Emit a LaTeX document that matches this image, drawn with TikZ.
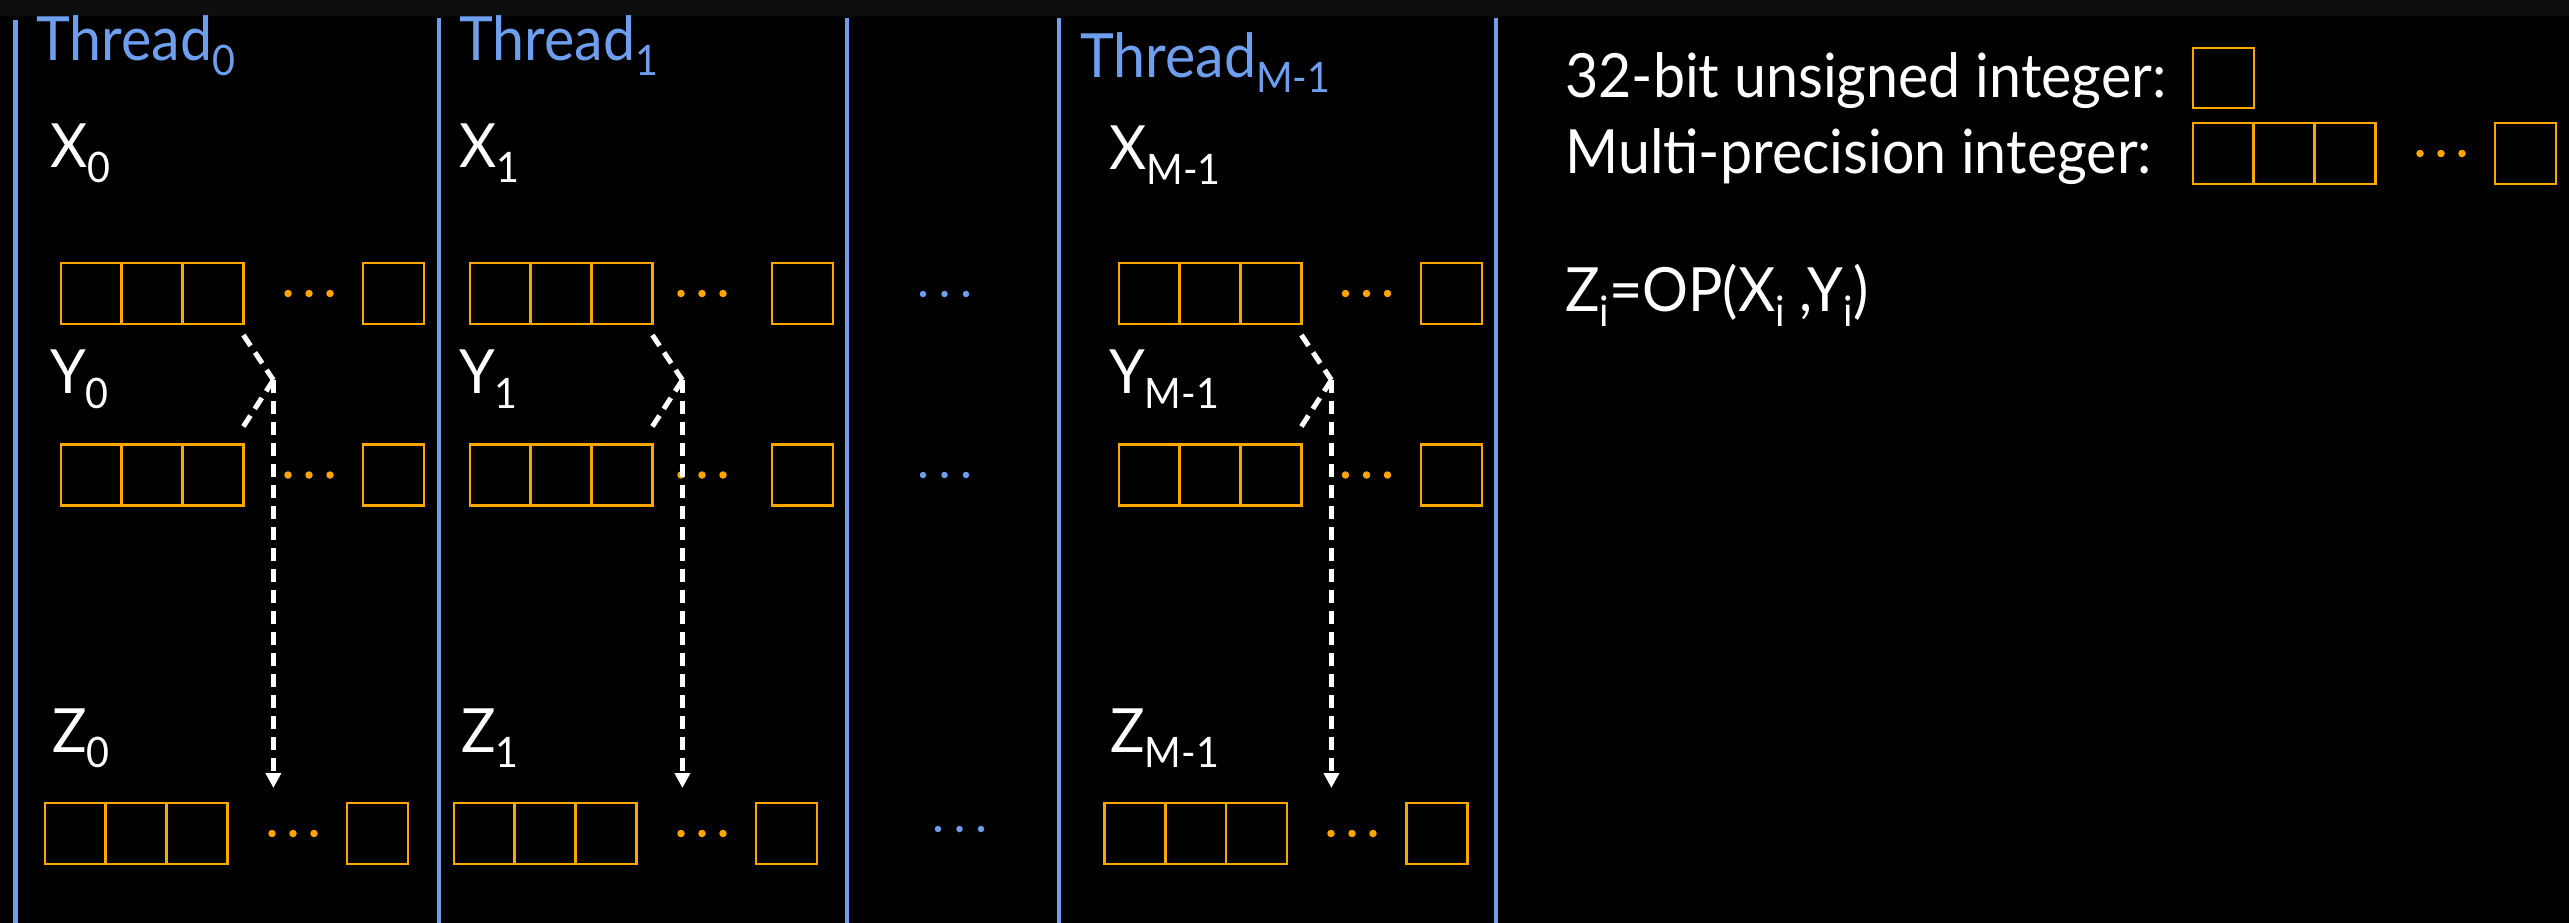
\documentclass[tikz,border=0pt]{standalone}
\usepackage{fontspec}
\usepackage{graphicx}
\setmainfont{Lato}
\usetikzlibrary{arrows.meta,calc}
\definecolor{blu}{RGB}{110,158,238}
\definecolor{orng}{RGB}{255,165,0}
\definecolor{topg}{RGB}{14,14,14}
\newcommand\bigf{\fontsize{61}{70}\selectfont}
\newcommand\sx[1]{\scalebox{0.94}[1]{#1}}
\newcommand\subf[1]{\raisebox{-15pt}{\fontsize{42}{42}\selectfont #1}}
\newcommand\mprow[4]{%
  \node[cell] (#1a) at (#2,#3) {};
  \node[cell] (#1b) at (#2+60.7,#3) {};
  \node[cell] (#1c) at (#2+121.4,#3) {};
  \node[odot] (#1d1) at (#4,#3+30.5) {};
  \node[odot] (#1d2) at (#4+21,#3+30.5) {};
  \node[odot] (#1d3) at (#4+42,#3+30.5) {};
  \node[cell] (#1n) at (#2+302,#3) {};
}
\begin{document}
\begin{tikzpicture}[x=1pt,y=-1pt,
  cell/.style={draw=orng, line width=2.5pt, minimum width=61pt, minimum height=61pt, inner sep=0pt, outer sep=0pt, anchor=north west},
  odot/.style={circle, fill=orng, inner sep=0pt, minimum size=7.5pt},
  bdot/.style={circle, fill=blu, inner sep=0pt, minimum size=6.5pt},
  sep/.style={draw=blu, line width=4.5pt},
  lbl/.style={text=white, anchor=base west, inner sep=0pt, font=\bigf},
  ttl/.style={text=blu, anchor=base west, inner sep=0pt, font=\bigf},
  flow/.style={draw=white, line width=5pt, dash pattern=on 13pt off 8pt},
  tip/.style={-{Triangle[width=15pt,length=15pt]}}
]
\fill[black] (0,0) rectangle (2569,923);
\fill[topg] (0,0) rectangle (2569,16);
\useasboundingbox (0,0) rectangle (2569,923);

\foreach \x/\t in {15.5/20,439/18,847/18,1059/18,1496/18}
  \draw[sep] (\x,\t) -- (\x,923);

% titles
\node[ttl] (t0) at (36,61) {\sx{Thread\subf{0}}};
\node[ttl] (t1) at (459,61) {\sx{Thread\subf{1}}};
\node[ttl] (tm) at (1080,78) {\sx{Thread\subf{M-1}}};

% labels
\node[lbl] (lx0) at (50,167) {\sx{X\subf{0}}};
\node[lbl] (ly0) at (50,393) {\sx{Y\subf{0}}};
\node[lbl] (lz0) at (52,752) {\sx{Z\subf{0}}};
\node[lbl] (lx1) at (459,167) {\sx{X\subf{1}}};
\node[lbl] (ly1) at (459,393) {\sx{Y\subf{1}}};
\node[lbl] (lz1) at (461,752) {\sx{Z\subf{1}}};
\node[lbl] (lxm) at (1109,169) {\sx{X\subf{M-1}}};
\node[lbl] (lym) at (1109,393) {\sx{Y\subf{M-1}}};
\node[lbl] (lzm) at (1110,752) {\sx{Z\subf{M-1}}};

% rows
\mprow{x0}{61}{263}{288}
\mprow{y0}{61}{444.5}{288}
\mprow{z0}{45}{803}{272}
\mprow{x1}{470}{263}{681}
\mprow{y1}{470}{444.5}{681}
\mprow{z1}{454}{803}{681}
\mprow{xm}{1119}{263}{1345.5}
\mprow{ym}{1119}{444.5}{1345.5}
\mprow{zm}{1104.5}{803}{1331}

% middle blue dots
\foreach \y/\x [count=\i] in {294/923,475/923,829/938}{
  \node[bdot] (bd\i a) at (\x,\y) {};
  \node[bdot] (bd\i b) at (\x+21.5,\y) {};
  \node[bdot] (bd\i c) at (\x+43,\y) {};
}

% flows
\foreach \t in {0,1,m}{
  \coordinate (m\t) at ($(x\t c.south east)+(30,56)$);
  \draw[flow] ($(x\t c.south east)+(0,11)$) -- (m\t);
  \draw[flow] ($(y\t c.north east)+(0,-18)$) -- (m\t);
  \draw[flow,tip] (m\t) -- ($(m\t |- z\t a.north)+(0,-15)$);
}

% legend
\node[lbl] (leg1) at (1565,98) {\sx{32-bit unsigned integer:}};
\node[cell, minimum height=60pt] (lb) at (2193,48) {};
\node[lbl] (leg2) at (1565,173) {\sx{Multi-precision integer:}};
\mprow{lm}{2193}{123}{2420}
\node[lbl] (eq) at (1565,311) {\sx{Z\subf{i}=OP(X\subf{i}\ ,Y\subf{i})}};
\end{tikzpicture}
\end{document}
